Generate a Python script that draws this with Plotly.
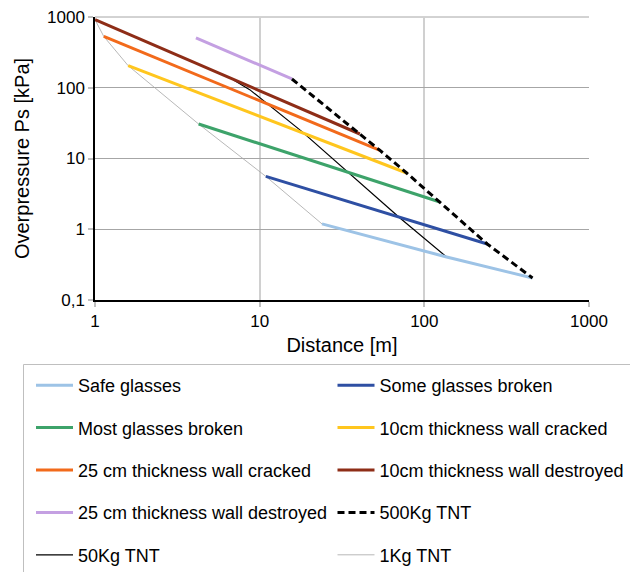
import plotly.graph_objects as go

# ---- data ----
safe_x = [23.9, 136.6, 454]
safe_y = [1.19, 0.405, 0.205]
some_x = [10.9, 241]
some_y = [5.58, 0.619]
most_x = [4.26, 124.4]
most_y = [30.7, 2.43]
wall10_cracked_x = [1.59, 78.1]
wall10_cracked_y = [205, 6.24]
wall25_cracked_x = [1.13, 53.8]
wall25_cracked_y = [532, 13.0]
wall10_destroyed_x = [1.0, 40.6]
wall10_destroyed_y = [916, 22.2]
wall25_destroyed_x = [4.1, 15.7]
wall25_destroyed_y = [509, 133]
tnt500_x = [15.7, 40.6, 53.8, 78.1, 124.4, 241, 454]
tnt500_y = [133, 22.2, 13.0, 6.24, 2.43, 0.619, 0.205]
tnt50_x = [6.9, 8.7, 18.0, 32.2, 71.1, 136.6]
tnt50_y = [130, 94, 24.2, 7.34, 1.44, 0.405]
tnt1_x = [1.0, 1.13, 1.59, 4.26, 10.9, 23.9]
tnt1_y = [916, 532, 205, 30.7, 5.58, 1.19]

x_tickvals = [1, 10, 100, 1000]
x_ticktext = ["1", "10", "100", "1000"]
y_tickvals = [0.1, 1, 10, 100, 1000]
y_ticktext = ["0,1", "1", "10", "100", "1000"]

FONT = "Liberation Sans, Arial, sans-serif"

series = [
    # name, x, y, color, width, dash, legend
    ("Safe glasses", safe_x, safe_y, "#9DC3E6", 3, "solid", "legend"),
    ("Some glasses broken", some_x, some_y, "#2E4FA3", 3, "solid", "legend2"),
    ("Most glasses broken", most_x, most_y, "#3DA36A", 3, "solid", "legend"),
    ("10cm thickness wall cracked", wall10_cracked_x, wall10_cracked_y, "#FFC61E", 3, "solid", "legend2"),
    ("25 cm thickness wall cracked", wall25_cracked_x, wall25_cracked_y, "#F26A1B", 3, "solid", "legend"),
    ("10cm thickness wall destroyed", wall10_destroyed_x, wall10_destroyed_y, "#8E2D17", 3, "solid", "legend2"),
    ("25 cm thickness wall destroyed", wall25_destroyed_x, wall25_destroyed_y, "#C4A0E2", 3, "solid", "legend"),
    ("500Kg TNT", tnt500_x, tnt500_y, "#000000", 3, "7px,4px", "legend2"),
    ("50Kg TNT", tnt50_x, tnt50_y, "#000000", 1.2, "solid", "legend"),
    ("1Kg TNT", tnt1_x, tnt1_y, "#A6A6A6", 0.8, "solid", "legend2"),
]

# thin TNT lines drawn first (behind the coloured ones)
draw_order = [9, 8, 0, 1, 2, 3, 4, 5, 6, 7]

fig = go.Figure()
for i in draw_order:
    name, xs, ys, col, w, dash, lg = series[i]
    fig.add_trace(go.Scatter(
        x=xs, y=ys, mode="lines", name=name,
        line=dict(color=col, width=w, dash=dash),
        legend=lg, legendgroup="g%d" % i, legendrank=100 + i * 10,
    ))

# page has an 8px body margin: figure coords = page coords - 8
OFF = 8
W, H = 638 - OFF, 572 - OFF
L, R, T = 95 - OFF, 49, 17 - OFF
B = H - T - 283
pw, ph = W - L - R, H - T - B

def px_x(p):
    return (p - OFF - L) / pw

def px_y(p):
    return (H - B - (p - OFF)) / ph

legend_common = dict(
    font=dict(family=FONT, size=18, color="#000000"),
    bgcolor="rgba(0,0,0,0)", borderwidth=0,
    orientation="v", tracegroupgap=16, itemwidth=37,
    xanchor="left", yanchor="top", traceorder="grouped",
)

EPS = 1e-4
fig.update_layout(
    width=W, height=H,
    margin=dict(l=L, r=R, t=T, b=B, autoexpand=False),
    paper_bgcolor="white", plot_bgcolor="white",
    font=dict(family=FONT, color="#000000"),
    showlegend=True,
    legend=dict(x=px_x(31), y=px_y(367), **legend_common),
    legend2=dict(x=px_x(332.5), y=px_y(367), **legend_common),
    xaxis=dict(
        type="log", range=[0 - EPS, 3 + EPS],
        tickvals=x_tickvals, ticktext=x_ticktext,
        tickfont=dict(size=17, family=FONT, color="#000000"),
        ticklabeloverflow="allow",
        showgrid=True, gridcolor="#D0D0D0", gridwidth=2,
        showline=True, linecolor="#000000", linewidth=1.5,
        ticks="outside", ticklen=5, tickcolor="#BFBFBF", tickwidth=1.5,
        zeroline=False,
        title=dict(text="Distance [m]", font=dict(size=20, family=FONT, color="#000000"), standoff=8),
    ),
    yaxis=dict(
        type="log", range=[-1 - EPS, 3 + EPS],
        tickvals=y_tickvals, ticktext=y_ticktext,
        tickfont=dict(size=17, family=FONT, color="#000000"),
        ticklabeloverflow="allow",
        showgrid=True, gridcolor="#A6A6A6", gridwidth=1,
        showline=True, linecolor="#000000", linewidth=1.5,
        ticks="outside", ticklen=5, tickcolor="#BFBFBF", tickwidth=1.5,
        zeroline=False,
        title=dict(text="Overpressure Ps [kPa]", font=dict(size=20, family=FONT, color="#000000"), standoff=12),
    ),
    shapes=[
        # legend frame
        dict(type="rect", xref="paper", yref="paper",
             x0=px_x(23.5), x1=px_x(630.5), y0=px_y(364.5), y1=px_y(590),
             line=dict(color="#BFBFBF", width=1), fillcolor="rgba(0,0,0,0)", layer="below"),
        # top grid line at the upper edge of the plot area (plotly clips the edge gridline)
        dict(type="line", xref="paper", yref="paper", x0=0, x1=1, y0=1, y1=1,
             line=dict(color="#A6A6A6", width=1), layer="below"),
    ],
)

fig.write_html("out.html")
